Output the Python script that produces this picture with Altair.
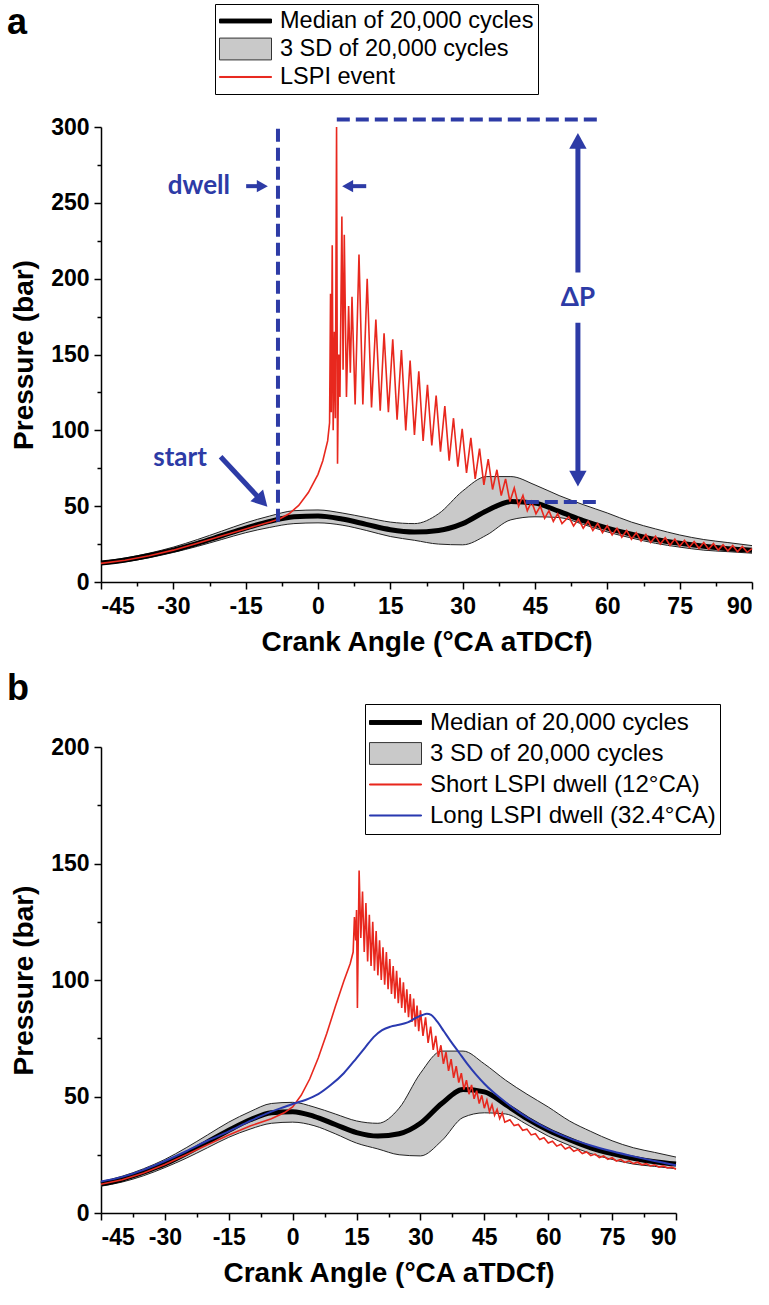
import altair as alt
import pandas as pd

# ---------------- values ----------------
# 20,000-cycle statistics (same curves in both panels)
band_ca = [-45, -40, -35, -30, -25, -20, -15, -10, -5, 0, 5, 10, 15, 20, 25, 30,
           35, 40, 45, 50, 55, 60, 65, 70, 75, 80, 85, 90]
median_bar = [12.5, 14.5, 17.5, 21, 25.5, 30.5, 35.5, 40, 43, 43.5, 41.5, 38, 34.5, 33,
              34, 38.5, 47, 53, 52, 46.5, 40.5, 35.5, 31.5, 28, 25.5, 23.5, 22, 21]
upper_bar = [13.5, 15.8, 19, 23, 28, 33.5, 39, 43.5, 47, 47.5, 45.5, 42.5, 39.5, 38.5,
             45, 60, 69.5, 69.5, 64, 57, 51, 45.5, 39.5, 35, 31, 28, 26, 24]
lower_bar = [11.5, 13.3, 16, 19.5, 23.5, 28, 32.5, 36, 38.5, 39, 37.5, 34, 30, 27.5,
             25, 24.5, 31, 41, 43, 42.5, 38, 33, 29, 25.5, 23, 21, 20, 19]

# panel a: LSPI event
lspi_ca = [-45, -40, -35, -30, -25, -20, -15, -12, -10, -8, -6, -4, -2, 0, 1, 2, 2.4, 2.6,
           2.75, 2.95, 3.15, 3.4, 3.6, 3.85, 4.05, 4.3, 4.55, 4.95, 5.2, 5.45, 5.9, 6.35,
           6.7, 7.05, 7.7, 8.5, 9.3, 10.2, 11.1, 12.0, 12.9, 13.7, 14.6, 15.5, 16.4, 17.3,
           18.2, 19.1, 20.0, 20.9, 21.8, 22.7, 23.6, 24.5, 25.4, 26.3, 27.2, 28.1, 29.0,
           29.9, 30.8, 31.7, 32.6, 33.5, 34.4, 35.3, 36.2, 37.1, 38.0, 38.9, 39.8, 40.7,
           41.6, 42.5, 43.4, 44.3, 45.2, 46.1, 47.0, 47.9, 48.8, 49.7, 50.6, 52, 53, 54,
           55, 56, 57, 58, 59, 60, 61, 62, 63, 64, 65, 66, 67, 68, 69, 70, 71, 72, 73, 74,
           75, 76, 77, 78, 79, 80, 81, 82, 83, 84, 85, 86, 87, 88, 89, 90]
lspi_bar = [12.3, 14.3, 17.3, 21.0, 25.5, 30.3, 35.0, 37.8, 39.5, 41.5, 45.0, 50.5, 59.0,
            71.0, 80.0, 93.0, 105, 190, 112, 222, 100, 165, 108, 300, 78, 150, 122, 241,
            140, 229, 122, 182, 138, 188, 117, 216, 117, 200, 115, 173, 113, 164, 112, 160,
            107, 153, 100, 146, 97, 139, 93, 130, 90, 123, 86, 116, 80, 108, 76, 101, 72,
            95, 68, 88, 64, 81, 61, 74, 57, 68, 53, 62, 50, 57, 47, 53, 45, 50, 42, 47, 40,
            45, 38.5, 43, 37, 41.5, 35.5, 40, 34, 38.5, 32.5, 37, 31, 35.5, 29.5, 34, 28.2,
            32.5, 27, 31.3, 26, 30.2, 25, 29.2, 24.2, 28.3, 23.5, 27.5, 22.8, 26.7, 22.2,
            26, 21.6, 25.3, 21, 24.6, 20.5, 24, 20, 23.4, 19.6, 22]

# panel b: short LSPI dwell
short_ca = [-45, -40, -35, -30, -25, -20, -15, -10, -5, -2, 0, 2, 4, 6, 8, 10, 12, 13.5,
            14.2, 14.5, 14.8, 15.0, 15.2, 15.6, 16.0, 16.4, 16.8, 17.2, 17.6, 18.0, 18.4,
            18.8, 19.2, 19.6, 20.0, 20.4, 20.8, 21.2, 21.6, 22.0, 22.4, 22.8, 23.2, 23.6,
            24.0, 24.4, 24.8, 25.2, 25.6, 26.0, 26.4, 26.8, 27.2, 27.6, 28.0, 28.4, 28.8,
            29.2, 29.6, 30.0, 30.6, 31.2, 31.8, 32.4, 33.0, 33.6, 34.2, 34.8, 35.4, 36.0,
            36.6, 37.2, 37.8, 38.4, 39.0, 39.6, 40.2, 40.8, 41.4, 42.0, 42.6, 43.2, 43.8,
            44.4, 45.0, 45.6, 46.2, 46.8, 47.4, 48.0, 48.6, 49.2, 49.8, 51, 52, 53, 54, 55,
            56, 57, 58, 59, 60, 61, 62, 63, 64, 65, 66, 67, 68, 69, 70, 71, 72, 73, 74, 75,
            76, 77, 78, 79, 80, 81, 82, 83, 84, 85, 86, 87, 88, 89, 90]
short_bar = [12.3, 14.3, 17.2, 20.8, 25.0, 29.3, 33.5, 37.3, 40.5, 43.0, 45.5, 50.5, 57.5,
             66.5, 77, 88.5, 99.5, 107, 112, 127, 117, 130, 88, 147, 118, 138, 112, 133,
             108, 128, 106, 125, 104, 121, 102, 117, 100, 114, 98, 112, 96, 109, 94, 106,
             92, 104, 90, 101, 88, 99, 86, 96, 84, 94, 82, 92, 80, 89, 78, 87, 76, 84, 73,
             80, 70, 76, 67, 72, 64, 69, 61, 66, 58, 63, 56, 60, 53, 57, 51, 55, 49, 52.5,
             47, 50.5, 45, 48.5, 43.5, 46.5, 42, 44.5, 40.5, 43, 39, 40, 37.5, 38, 35.5, 36,
             33.5, 34, 31.5, 32.3, 30, 30.8, 28.7, 29.5, 27.5, 28.3, 26.5, 27.2, 25.5, 26.2,
             24.6, 25.3, 23.8, 24.5, 23, 23.7, 22.3, 23, 21.7, 22.4, 21.2, 21.8, 20.7, 21.2,
             20.2, 20.7, 19.7, 20.2, 19.3, 19.7, 18.8]

# panel b: long LSPI dwell
long_ca = [-45, -40, -35, -30, -25, -20, -15, -10, -5, -2, 0, 3, 6, 9, 12, 15, 17, 19, 21,
           23, 25, 27, 29, 30.5, 31.5, 32.5, 34, 35.5, 37, 39, 41, 43, 45, 47, 50, 55, 60,
           65, 70, 75, 80, 85, 90]
long_bar = [13.5, 15.5, 18.5, 22.3, 26.5, 31, 35, 39.5, 43.5, 45.5, 46.8, 48.5, 51, 55, 60,
            66.5, 71, 75.5, 78.5, 80, 80.8, 81.8, 83.8, 85, 85.5, 85, 82, 78, 74, 69, 64,
            59.5, 55.5, 52, 47.5, 41, 36, 32, 29, 26.5, 24.3, 22.3, 20.5]

# series names
NAME_MED = "Median of 20,000 cycles"
NAME_SD = "3 SD of 20,000 cycles"
NAME_LSPI = "LSPI event"
NAME_SHORT = "Short LSPI dwell (12°CA)"
NAME_LONG = "Long LSPI dwell (32.4°CA)"

# axis ticks and labels
x_ticks = [-45, -37.5, -30, -22.5, -15, -7.5, 0, 7.5, 15, 22.5, 30, 37.5, 45, 52.5, 60,
           67.5, 75, 82.5, 90]
ya_ticks = [0, 25, 50, 75, 100, 125, 150, 175, 200, 225, 250, 275, 300]
yb_ticks = [0, 25, 50, 75, 100, 125, 150, 175, 200]
x_title = "Crank Angle (°CA aTDCf)"
y_title = "Pressure (bar)"

# panel a annotations (°CA, bar)
dash_x = [-8.3, 3.9, 43.1]
dash_y = [39.7, 305, 52.7]
dash_x2 = [-8.3, 57.9, 57.9]
dash_y2 = [302.8, 305, 52.7]
shaft_x = [-14.9, 10.0, 53.9, 53.9, -20.2]
shaft_y = [261, 261, 204, 171, 82.6]
shaft_x2 = [-11.9, 6.5, 53.9, 53.9, -11.8]
shaft_y2 = [261, 261, 290, 69, 53.9]
head_x = [-10.4, 5.0, 53.9, 53.9, -10.5]
head_y = [261, 261, 296, 63, 49.6]
head_angle = [90, 270, 0, 180, 137]
ann_text = ["dwell", "ΔP", "start"]
ann_x = [-24.7, 53.9, -28.6]
ann_y = [261, 187, 82]

# ---------------- styles ----------------
FONT = "Liberation Sans"
ANN_FONT = "Lato"
ANN_BLUE = "#2d3ba6"
RED = "#e8281e"
BLUE = "#2a3ab0"
BAND = "#c9c9c9"
EDGE = "#333333"
HEAD = "M0,0L-1,1.8L1,1.8Z"
RECT_SD = "M-1,-0.42L1,-0.42L1,0.42L-1,0.42Z"
RECT_MED = "M-1,-0.075L1,-0.075L1,0.075L-1,0.075Z"
RECT_LINE = "M-1,-0.02L1,-0.02L1,0.02L-1,0.02Z"

band_df = pd.DataFrame({"ca": band_ca, "median": median_bar, "upper": upper_bar,
                        "lower": lower_bar, "series": NAME_MED})
lspi_df = pd.DataFrame({"ca": lspi_ca, "bar": lspi_bar, "series": NAME_LSPI})
short_df = pd.DataFrame({"ca": short_ca, "bar": short_bar, "series": NAME_SHORT})
long_df = pd.DataFrame({"ca": long_ca, "bar": long_bar, "series": NAME_LONG})
dash_df = pd.DataFrame({"x": dash_x, "y": dash_y, "x2": dash_x2, "y2": dash_y2})
shaft_df = pd.DataFrame({"x": shaft_x, "y": shaft_y, "x2": shaft_x2, "y2": shaft_y2,
                         "w": [4, 4, 5, 5, 5]})
head_df = pd.DataFrame({"x": head_x, "y": head_y, "angle": head_angle,
                        "size": [150, 150, 300, 300, 300]})
text_df = pd.DataFrame({"x": ann_x, "y": ann_y, "t": ann_text})


def tern(mapping, default):
    s = "'" + default + "'"
    for k, v in reversed(list(mapping.items())):
        s = "datum.value === '" + k + "' ? '" + v + "' : " + s
    return s


def make_legend(names, colors, lx, ly, clip_h, font_size):
    shapes = {NAME_MED: RECT_MED, NAME_SD: RECT_SD}
    fills = dict(zip(names, colors))
    fills[NAME_SD] = BAND
    return alt.Legend(
        title=None, orient="none", legendX=lx, legendY=ly, direction="vertical",
        strokeColor="black", fillColor="white", padding=4,
        symbolSize=2704, symbolStrokeWidth=1, clipHeight=clip_h, rowPadding=2,
        symbolType=alt.ExprRef(expr=tern(shapes, RECT_LINE)),
        symbolFillColor=alt.ExprRef(expr=tern(fills, "black")),
        symbolOpacity=1,
        labelFont=FONT, labelFontSize=font_size, labelColor="black", labelOffset=8,
        labelLimit=600,
    )


def xaxis():
    return alt.Axis(values=x_ticks, title=x_title,
                    labelExpr="abs(datum.value % 15) < 0.01 ? '' + datum.value : ''",
                    tickSize={"condition": {"test": "abs(datum.value % 15) < 0.01", "value": 7},
                              "value": 4},
                    labelPadding=6, titlePadding=10)


def yaxis(ticks):
    return alt.Axis(values=ticks, title=y_title,
                    labelExpr="datum.value % 50 === 0 ? '' + datum.value : ''",
                    tickSize={"condition": {"test": "datum.value % 50 === 0", "value": 7},
                              "value": 4},
                    labelPadding=5, titlePadding=12)


def panel(ymax, yticks, width, height, line_layers, names, colors, lx, ly, clip_h, lfs,
          letter, letter_dy, extra=None):
    xs = alt.Scale(domain=[-45, 90], nice=False, zero=False)
    ys = alt.Scale(domain=[0, ymax], nice=False, zero=True)
    X = lambda f: alt.X(f, type="quantitative", scale=xs, axis=xaxis())
    Y = lambda f: alt.Y(f, type="quantitative", scale=ys, axis=yaxis(yticks))
    scale_range = list(colors)
    scale_range[1] = EDGE  # legend border colour of the 3 SD box
    col = alt.Color("series:N", scale=alt.Scale(domain=names, range=scale_range),
                    legend=make_legend(names, colors, lx, ly, clip_h, lfs))
    base = alt.Chart(band_df)
    layers = [
        base.mark_area(color=BAND, interpolate="monotone").encode(
            x=X("ca"), y=Y("lower"), y2="upper"),
        base.mark_line(color="#222222", strokeWidth=1, interpolate="monotone").encode(
            x=X("ca"), y=Y("upper")),
        base.mark_line(color="#222222", strokeWidth=1, interpolate="monotone").encode(
            x=X("ca"), y=Y("lower")),
        base.mark_line(interpolate="monotone").encode(
            x=X("ca"), y=Y("median"), color=col, strokeWidth=alt.value(5)),
    ]
    for df, w, interp in line_layers:
        layers.append(alt.Chart(df).mark_line(interpolate=interp).encode(
            x=X("ca"), y=Y("bar"), color=col, strokeWidth=alt.value(w)))
    if extra:
        layers += extra(X, Y)
    return alt.layer(*layers).properties(
        width=width, height=height,
        title=alt.TitleParams(letter, anchor="start", frame="group", font=FONT,
                              fontSize=36, fontWeight="bold", dx=-94, dy=letter_dy,
                              offset=0),
    )


def annotations(X, Y):
    return [
        alt.Chart(dash_df).mark_rule(color=ANN_BLUE, strokeWidth=4, strokeDash=[13, 6]).encode(
            x=X("x"), y=Y("y"), x2="x2", y2="y2"),
        alt.Chart(shaft_df).mark_rule(color=ANN_BLUE).encode(
            x=X("x"), y=Y("y"), x2="x2", y2="y2",
            strokeWidth=alt.StrokeWidth("w:Q", scale=None, legend=None)),
        alt.Chart(head_df).mark_point(shape=HEAD, filled=True, color=ANN_BLUE, opacity=1,
                                      strokeWidth=0).encode(
            x=X("x"), y=Y("y"),
            angle=alt.Angle("angle:Q", scale=None),
            size=alt.Size("size:Q", scale=None, legend=None)),
        alt.Chart(text_df).mark_text(font=ANN_FONT, fontWeight="bold", fontSize=26,
                                     color=ANN_BLUE, align="center", baseline="middle").encode(
            x=X("x"), y=Y("y"), text="t:N"),
    ]


pa = panel(300, ya_ticks, 651, 455, [(lspi_df, 1.6, "linear")],
           [NAME_MED, NAME_SD, NAME_LSPI], ["black", BAND, RED], 114, -123, 26, 23.5,
           "a", 38, extra=annotations)
pb = panel(200, yb_ticks, 575, 466, [(short_df, 1.6, "linear"), (long_df, 2, "monotone")],
           [NAME_MED, NAME_SD, NAME_SHORT, NAME_LONG], ["black", BAND, RED, BLUE],
           264, -43, 29, 24, "b", 4)

chart = alt.vconcat(pa, pb, spacing=14).resolve_scale(color="independent").properties(
    padding={"left": 7, "top": 3, "right": 6, "bottom": 4}
).configure_view(stroke=None).configure_axis(
    domainColor="black", domainWidth=1.5, tickColor="black", tickWidth=1.5,
    grid=False, labelFont=FONT, labelFontSize=23, labelFontWeight="bold",
    labelColor="black", titleFont=FONT, titleFontSize=28, titleFontWeight="bold",
    titleColor="black",
)

chart.save("out.html", embed_options={"renderer": "svg", "actions": False})
